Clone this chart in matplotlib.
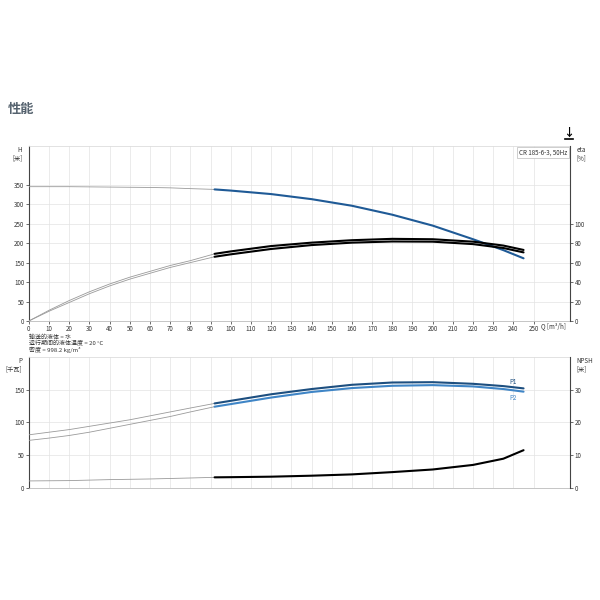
import numpy as np
import matplotlib
matplotlib.use("Agg")
import matplotlib.pyplot as plt
from matplotlib.lines import Line2D

plt.rcParams['font.family'] = ['Noto Sans CJK SC', 'DejaVu Sans']

# ── data ──────────────────────────────────────────────────────────────────
Q = [0, 10, 20, 30, 40, 50, 60, 70, 80, 92, 100, 120, 140, 160, 180, 200, 220, 235, 245]
H = [345, 345, 345, 344.5, 344, 343.5, 343, 342, 340, 338, 335, 326, 313, 296, 273, 245, 210, 182, 161]
ETA1 = [0, 11, 21, 30, 38, 45, 51, 57, 62, 69, 71.5, 77, 80.5, 83, 84.4, 84, 81.5, 77.5, 73]
ETA2 = [0, 10, 19, 28, 36, 43, 49, 55, 60, 66, 68.5, 74, 78, 80.5, 81.7, 81.5, 79, 75, 70.5]
P1 = [81, 85, 89, 94, 99, 104, 110, 116, 122, 129, 133, 143, 151, 157.5, 161, 161.5, 159, 155.5, 152]
P2 = [72.5, 76, 80, 85, 91, 97, 103, 109, 116, 124, 128, 138, 146.5, 152.5, 156, 157, 155, 151, 147]
NPSH = [2.1, 2.15, 2.2, 2.35, 2.5, 2.6, 2.7, 2.85, 3.0, 3.2, 3.25, 3.4, 3.7, 4.1, 4.8, 5.6, 7.0, 8.9, 11.5]
Q_SPLIT = 92

X_TICKS = list(range(0, 260, 10))
H_TICKS = [0, 50, 100, 150, 200, 250, 300, 350]
ETA_TICKS = [0, 20, 40, 60, 80, 100]
P_TICKS = [0, 50, 100, 150]
NPSH_TICKS = [0, 10, 20, 30]

GRAY = "#9a9a9a"
BLUE = "#1f5a96"
P1_COLOR = "#1d4f80"
P2_COLOR = "#3f85c6"
TICK_FS = 4.5


def split_plot(ax, x, y, color, lw=1.5):
    x = np.asarray(x, float)
    y = np.asarray(y, float)
    thin = x <= Q_SPLIT
    thick = x >= Q_SPLIT
    ax.plot(x[thin], y[thin], color=GRAY, lw=0.6, zorder=3)
    ax.plot(x[thick], y[thick], color=color, lw=lw, zorder=4,
            solid_joinstyle="round", solid_capstyle="round")


def style(ax, ymax, yticks, xlabels):
    ax.set_xlim(0, 268)
    ax.set_ylim(0, ymax)
    ax.set_xticks(X_TICKS)
    ax.set_yticks(yticks)
    ax.tick_params(labelsize=TICK_FS, length=2, width=0.5, colors="#333333", pad=1.2)
    if not xlabels:
        ax.set_xticklabels([])
        ax.tick_params(axis="x", length=0)
    ax.grid(True, color="#e3e3e3", lw=0.5)
    ax.set_axisbelow(True)
    ax.spines["top"].set_color("#dddddd")
    ax.spines["top"].set_linewidth(0.6)
    ax.spines["bottom"].set_color("#bbbbbb")
    ax.spines["bottom"].set_linewidth(0.6)
    ax.spines["left"].set_color("#444444")
    ax.spines["left"].set_linewidth(0.8)
    ax.spines["right"].set_visible(False)


def style_right(ax, ymax, yticks):
    ax.set_ylim(0, ymax)
    ax.set_yticks(yticks)
    ax.tick_params(labelsize=TICK_FS, length=2, width=0.5, colors="#333333", pad=1.5)
    for s in ["top", "left", "bottom"]:
        ax.spines[s].set_visible(False)
    ax.spines["right"].set_color("#444444")
    ax.spines["right"].set_linewidth(0.8)


fig = plt.figure(figsize=(6, 6), dpi=100)
fig.patch.set_facecolor("white")

fig.text(0.013, 0.812, "性能", fontsize=9.5, color="#55626e", fontweight="bold")

# download icon
fig.text(0.948, 0.78, "↓", fontsize=8, fontweight="bold", ha="center", va="center")
fig.add_artist(Line2D([0.941, 0.955], [0.768, 0.768], color="black", lw=1.2))

# ── top: H and efficiency ──────────────────────────────────────────────────
ax = fig.add_axes([0.048, 0.465, 0.902, 0.292])
style(ax, 450, H_TICKS, True)
split_plot(ax, Q, H, BLUE)
ax.text(260, -4, "Q [m³/h]", fontsize=TICK_FS, va="top", ha="center", color="#333333")
ax.text(-0.012, 1.0, "H\n[米]", transform=ax.transAxes, fontsize=TICK_FS,
        ha="right", va="top", color="#333333", linespacing=1.1)
ax.text(0.995, 0.985, "CR 185-6-3, 50Hz", transform=ax.transAxes, fontsize=TICK_FS,
        ha="right", va="top", color="#333333",
        bbox=dict(boxstyle="square,pad=0.3", fc="white", ec="#bbbbbb", lw=0.5))

ax2 = ax.twinx()
style_right(ax2, 180, ETA_TICKS)
split_plot(ax2, Q, ETA1, "black")
split_plot(ax2, Q, ETA2, "black")
ax2.text(1.012, 1.0, "eta\n[%]", transform=ax2.transAxes, fontsize=TICK_FS,
         ha="left", va="top", color="#333333", linespacing=1.1)

fig.text(0.048, 0.4385, "输送的液体 = 水", fontsize=4.3, color="#333333", va="center")
fig.text(0.048, 0.4275, "运行期间的液体温度 = 20 °C", fontsize=4.3, color="#333333", va="center")
fig.text(0.048, 0.4165, "密度 = 998.2 kg/m³", fontsize=4.3, color="#333333", va="center")

# ── bottom: power and NPSH ──────────────────────────────────────────────────
bx = fig.add_axes([0.048, 0.187, 0.902, 0.218])
style(bx, 200, P_TICKS, False)
split_plot(bx, Q, P1, P1_COLOR)
split_plot(bx, Q, P2, P2_COLOR)
bx.text(240, P1[-1] + 3, "P1", fontsize=TICK_FS, color=P1_COLOR, ha="center", va="bottom")
bx.text(240, P2[-1] - 3, "P2", fontsize=TICK_FS, color=P2_COLOR, ha="center", va="top")
bx.text(-0.012, 1.0, "P\n[千瓦]", transform=bx.transAxes, fontsize=TICK_FS,
        ha="right", va="top", color="#333333", linespacing=1.1)

bx2 = bx.twinx()
style_right(bx2, 40, NPSH_TICKS)
split_plot(bx2, Q, NPSH, "black")
bx2.text(1.012, 1.0, "NPSH\n[米]", transform=bx2.transAxes, fontsize=TICK_FS,
         ha="left", va="top", color="#333333", linespacing=1.1)

fig.savefig("out.png", dpi=100, facecolor="white")
